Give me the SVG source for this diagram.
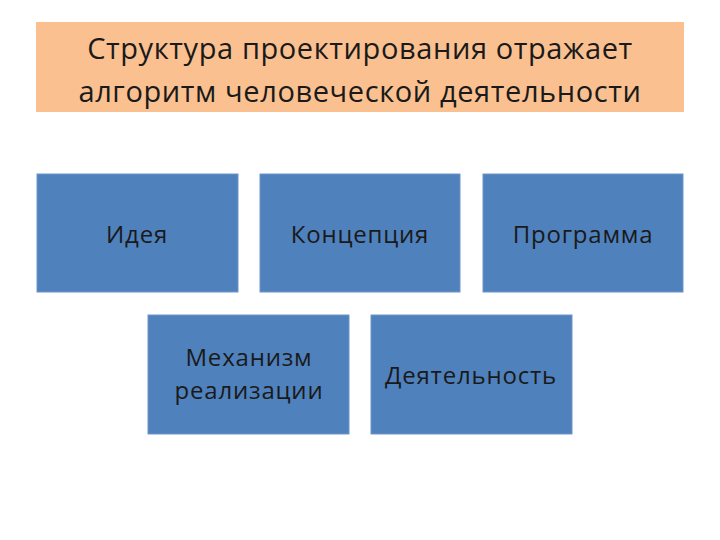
<svg xmlns="http://www.w3.org/2000/svg" width="720" height="540" viewBox="0 0 720 540">
<style>
.b{fill:#4F81BD;stroke:#6E95C8;stroke-width:1}
.t{font-family:"Open Sans","Liberation Sans",sans-serif;font-size:24px;letter-spacing:0.8px;fill:#1a1a1a;text-anchor:middle}
.h{font-family:"Open Sans","Liberation Sans",sans-serif;font-size:29px;letter-spacing:0.6px;fill:#1a1a1a;text-anchor:middle}
</style>
<rect width="720" height="540" fill="#fff"/>
<g id="title"><rect x="36" y="22" width="648" height="90" fill="#FAC090"/>
<text class="h" x="360" y="59">Структура проектирования отражает</text>
<text class="h" x="360" y="102">алгоритм человеческой деятельности</text></g>
<g id="idea"><rect class="b" x="37" y="174" width="201" height="118"/><text class="t" x="137" y="243">Идея</text></g>
<g id="concept"><rect class="b" x="260" y="174" width="200" height="118"/><text class="t" x="360" y="243">Концепция</text></g>
<g id="program"><rect class="b" x="483" y="174" width="200" height="118"/><text class="t" x="583" y="243">Программа</text></g>
<g id="mechanism"><rect class="b" x="148" y="315" width="201" height="119"/><text class="t" x="249" y="366">Механизм</text><text class="t" x="249" y="399">реализации</text></g>
<g id="activity"><rect class="b" x="371" y="315" width="201" height="119"/><text class="t" x="471" y="384">Деятельность</text></g>
<g id="connectors"/>
</svg>
